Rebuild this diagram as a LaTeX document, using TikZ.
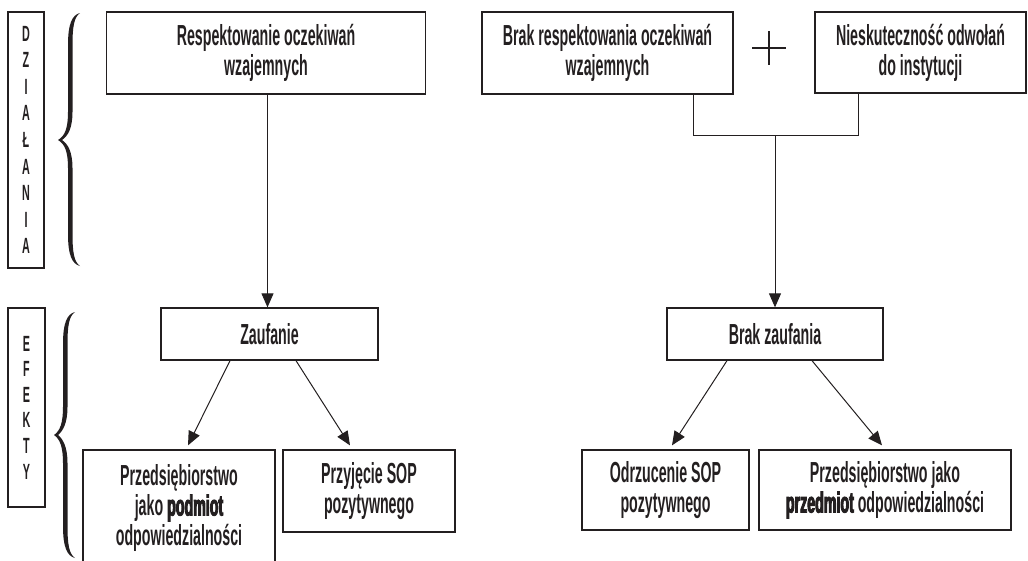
\documentclass[tikz,border=0pt]{standalone}
\usepackage{fontspec}
\setmainfont{Liberation Sans Bold}[FakeStretch=0.49,
  BoldFont=Liberation Sans Bold,
  BoldFeatures={FakeBold=3}]
\usetikzlibrary{arrows.meta,calc}
\definecolor{ink}{HTML}{231F20}
\begin{document}
\begin{tikzpicture}[x=1pt,y=-1pt,
  box/.style={draw=ink, line width=1.3pt, text=ink, inner sep=0pt, align=center,
    font=\fontsize{29}{30}\selectfont},
  vbox/.style={draw=ink, line width=1.3pt, text=ink, inner sep=0pt, align=center},
  arr/.style={draw=ink, line width=1pt, -{Triangle[length=14pt,width=12pt]}},
  link/.style={draw=ink, line width=1pt}]
\useasboundingbox (0,0) rectangle (1028,560);
\clip (0,0) rectangle (1028,560);

% side labels
\node[vbox, minimum width=36, minimum height=256, font=\fontsize{22}{26.6}\selectfont] (dz) at (26,140)
  {D\\Z\\I\\A\\Ł\\A\\N\\I\\A};
\node[vbox, minimum width=37, minimum height=199, font=\fontsize{22}{25.6}\selectfont] (ef) at (26.5,407.5)
  {E\\F\\E\\K\\T\\Y};

% braces
\fill[ink] (80,13) .. controls (72,15) and (68,24) .. (68,45) -- (68,112)
  .. controls (68,128) and (65,136) .. (58,140)
  .. controls (65,144) and (68,152) .. (68,168) -- (68,234)
  .. controls (68,255) and (72,264) .. (80,266)
  .. controls (74,262) and (72.5,252) .. (72.5,234) -- (72.5,168)
  .. controls (72.5,152) and (68,144) .. (62,140)
  .. controls (68,136) and (72.5,128) .. (72.5,112) -- (72.5,45)
  .. controls (72.5,27) and (74,17) .. (80,13) -- cycle;
\fill[ink] (75,312) .. controls (67,314) and (63,323) .. (63,344) -- (63,407)
  .. controls (63,423) and (60,431) .. (54,435)
  .. controls (60,439) and (63,447) .. (63,463) -- (63,526)
  .. controls (63,547) and (67,556) .. (75,558)
  .. controls (69,554) and (67.5,544) .. (67.5,526) -- (67.5,463)
  .. controls (67.5,447) and (63,439) .. (58,435)
  .. controls (63,431) and (67.5,423) .. (67.5,407) -- (67.5,344)
  .. controls (67.5,326) and (69,316) .. (75,312) -- cycle;

% top row
\node[box, minimum width=319, minimum height=82] (resp) at (266,53)
  {Respektowanie oczekiwań\\wzajemnych};
\node[box, minimum width=251, minimum height=82] (brak) at (607.5,53)
  {Brak respektowania oczekiwań\\wzajemnych};
\node[box, minimum width=211, minimum height=81] (niesk) at (920.5,52.5)
  {Nieskuteczność odwołań\\do instytucji};
\draw[ink, line width=1.4pt] (752,48) -- (786,48) (769,31) -- (769,65);

% middle row
\node[box, minimum width=217, minimum height=52] (zauf) at (269.5,334) {Zaufanie};
\node[box, minimum width=216, minimum height=52] (bzauf) at (775,334) {Brak zaufania};

% bottom row
\node[box, minimum width=192, minimum height=116] (pb) at (179,508)
  {Przedsiębiorstwo\\jako \textbf{podmiot}\\odpowiedzialności};
\node[box, minimum width=172, minimum height=82] (pp) at (369,491)
  {Przyjęcie SOP\\pozytywnego};
\node[box, minimum width=167, minimum height=80] (od) at (665.5,490)
  {Odrzucenie SOP\\pozytywnego};
\node[box, minimum width=252, minimum height=80] (pr) at (885,490)
  {Przedsiębiorstwo jako\\\textbf{przedmiot} odpowiedzialności};

% connectors
\coordinate (bj) at (693,135);
\coordinate (nj) at (858,135);
\coordinate (mj) at (775,135);
\draw[link] (brak.south -| bj) -- (bj) -- (nj) -- (niesk.south -| nj);
\draw[arr] (mj) -- (bzauf.north);
\draw[arr] ($(resp.south)+(1.5,0)$) -- ($(zauf.north)+(-2,0)$);
\draw[arr] ($(zauf.south)+(-39.5,0)$) -- ($(pb.north)+(9,-4)$);
\draw[arr] ($(zauf.south)+(26.5,0)$) -- ($(pp.north)+(-19,-4)$);
\draw[arr] ($(bzauf.south)+(-48,0)$) -- ($(od.north)+(6.5,-4)$);
\draw[arr] ($(bzauf.south)+(37,0)$) -- ($(pr.north)+(-3,-4)$);
\end{tikzpicture}
\end{document}
